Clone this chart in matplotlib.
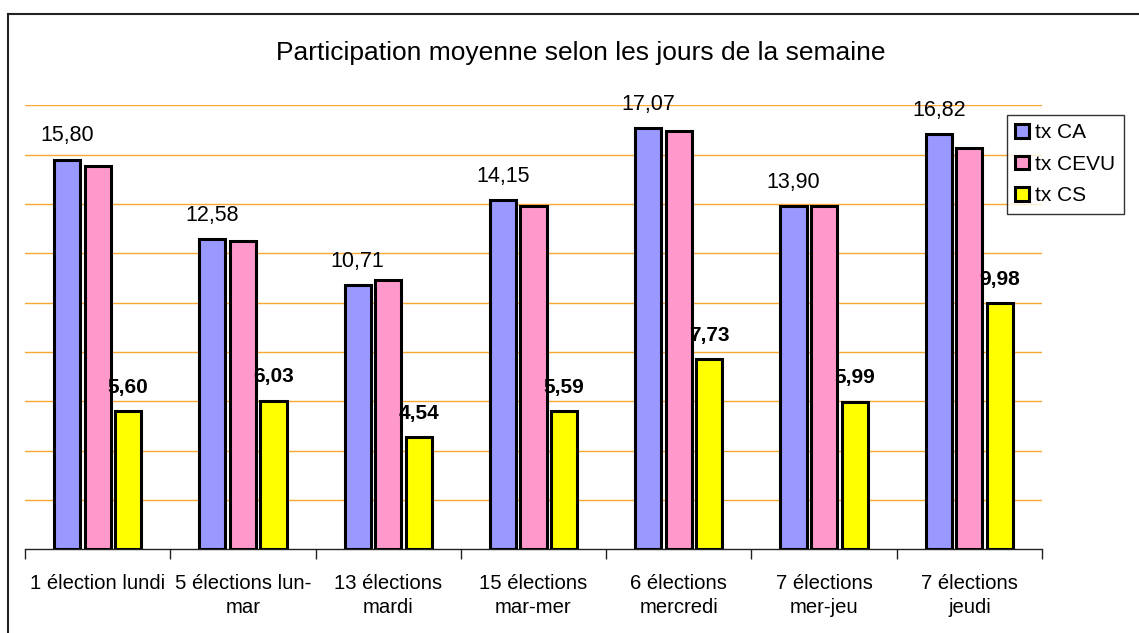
import numpy as np
import matplotlib
matplotlib.use('Agg')
from matplotlib import pyplot as plt
from matplotlib.lines import Line2D

plt.rcParams['font.family'] = ['Liberation Sans', 'DejaVu Sans']

categories = ['1 élection lundi', '5 élections lun-\nmar', '13 élections\nmardi',
              '15 élections\nmar-mer', '6 élections\nmercredi', '7 élections\nmer-jeu',
              '7 élections\njeudi']
tx_ca = [15.80, 12.58, 10.71, 14.15, 17.07, 13.90, 16.82]
tx_cevu = [15.55, 12.48, 10.90, 13.90, 16.96, 13.90, 16.25]
tx_cs = [5.60, 6.03, 4.54, 5.59, 7.73, 5.99, 9.98]

series = [('tx CA', tx_ca, '#9999FF'),
          ('tx CEVU', tx_cevu, '#FF99CC'),
          ('tx CS', tx_cs, '#FFFF00')]

fig = plt.figure(figsize=(11.39, 6.33), dpi=100)
ax = fig.add_axes([25/1139, 1-549.3/633, (1042-25)/1139, (549.3-105.3)/633])

x = np.arange(len(categories))
step = 0.21
width = 0.18
handles = []
for i, (name, vals, col) in enumerate(series):
    pos = x + (i - 1) * step
    bars = ax.bar(pos, vals, width, color=col, edgecolor='black', linewidth=2.2,
                  zorder=3, label=name)
    handles.append(bars)
    if name == 'tx CA':
        for p, v in zip(pos, vals):
            ax.annotate(f'{v:.2f}'.replace('.', ','), (p, v), xytext=(0, 17),
                        textcoords='offset points', ha='center', va='center',
                        fontsize=15.5, zorder=4)
    elif name == 'tx CS':
        for p, v in zip(pos, vals):
            ax.annotate(f'{v:.2f}'.replace('.', ','), (p, v), xytext=(0, 17),
                        textcoords='offset points', ha='center', va='center',
                        fontsize=15, fontweight='bold', zorder=4)

ax.set_xlim(-0.5, len(categories) - 0.5)
ax.set_ylim(0, 18)
ax.set_yticks(np.arange(2, 19, 2))
ax.yaxis.grid(True, color='#F9A832', linewidth=1.0, zorder=0)
ax.tick_params(axis='y', left=False, labelleft=False)

ax.set_xticks(x)
ax.set_xticklabels(categories, fontsize=14.6, linespacing=1.3)
ax.set_xticks(np.arange(-0.5, len(categories), 1), minor=True)
ax.tick_params(axis='x', which='major', length=0, pad=18)
ax.tick_params(axis='x', which='minor', length=7, width=1, direction='out', color='#222222')

for s in ['left', 'right', 'top']:
    ax.spines[s].set_visible(False)
ax.spines['bottom'].set_color('#222222')
ax.spines['bottom'].set_linewidth(1)

fig.text(581/1139, 1-53/633, 'Participation moyenne selon les jours de la semaine',
         ha='center', va='center', fontsize=19)

leg = fig.legend(handles=handles, loc='upper left',
                 bbox_to_anchor=(1007/1139, 1-115/633), fontsize=15,
                 frameon=True, fancybox=False, edgecolor='black',
                 handlelength=0.65, handleheight=0.65, handletextpad=0.3,
                 borderpad=0.4, labelspacing=0.6, borderaxespad=0)
leg.get_frame().set_linewidth(1)

# chart border (top and left visible)
fig.add_artist(Line2D([8/1139, 1], [1-14/633, 1-14/633], color='#222222', linewidth=1.5))
fig.add_artist(Line2D([8/1139, 8/1139], [0, 1-14/633], color='#222222', linewidth=1.5))

fig.savefig('out.png', dpi=100)
